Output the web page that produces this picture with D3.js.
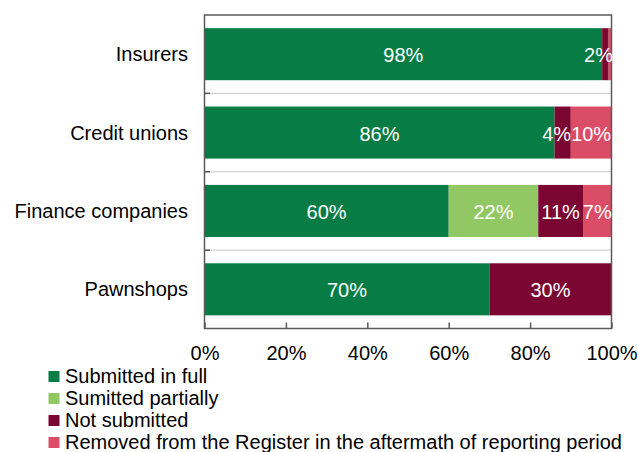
<!DOCTYPE html>
<html>
<head>
<meta charset="utf-8">
<script src="https://cdn.jsdelivr.net/npm/d3@7"></script>
<style>
  html, body { margin: 0; padding: 0; background: #fff; }
  svg { display: block; font-family: "Liberation Sans", Arial, sans-serif; }
</style>
</head>
<body>
<svg id="chart" width="638" height="452"></svg>
<script>
// Reporting status by type of institution, share of entities (%)
const categories = ["Insurers", "Credit unions", "Finance companies", "Pawnshops"];
const seriesNames = [
  "Submitted in full",
  "Sumitted partially",
  "Not submitted",
  "Removed from the Register in the aftermath of reporting period"
];
const submittedFull      = [97.7, 86, 60, 70];
const submittedPartially = [0,     0, 22,  0];
const notSubmitted       = [1.6,   4, 11, 30];
const removedFromReg     = [0.7,  10,  7,  0];
const xTickValues = [0, 20, 40, 60, 80, 100];
const seriesColors = ["#077d45", "#92c864", "#7c0632", "#db4d66"];

const seriesValues = [submittedFull, submittedPartially, notSubmitted, removedFromReg];
const keys = seriesNames;
const rows = categories.map((c, i) => {
  const r = { category: c };
  keys.forEach((k, j) => { r[k] = seriesValues[j][i]; });
  return r;
});

const svg = d3.select("#chart");
const plot = { left: 204.5, right: 611.5, top: 15, bottom: 328.5 };
const fontSize = 20;

const x = d3.scaleLinear().domain([0, 100]).range([plot.left, plot.right]);
const yBands = d3.scaleBand().domain(categories).range([plot.top, plot.bottom]).padding(0);
const y = d3.scaleBand().domain(categories).range([plot.top, plot.bottom])
  .paddingInner(0.336).paddingOuter(0.168);

const stacked = d3.stack().keys(keys)(rows);

// horizontal separators between categories
const boundaries = categories.slice(1).map(c => yBands(c));
svg.append("g").selectAll("line").data(boundaries).join("line")
  .attr("x1", plot.left).attr("x2", plot.right)
  .attr("y1", d => d).attr("y2", d => d)
  .attr("stroke", "#c8c8c8").attr("stroke-width", 1);

// stacked bars
const layers = svg.append("g").selectAll("g").data(stacked).join("g")
  .attr("fill", (d, i) => seriesColors[i]);
layers.selectAll("rect").data(d => d.filter(p => p[1] - p[0] > 0)).join("rect")
  .attr("x", d => x(d[0]))
  .attr("width", d => x(d[1]) - x(d[0]))
  .attr("y", d => y(d.data.category))
  .attr("height", y.bandwidth());

// frame
svg.append("rect")
  .attr("x", plot.left).attr("y", plot.top)
  .attr("width", plot.right - plot.left).attr("height", plot.bottom - plot.top)
  .attr("fill", "none").attr("stroke", "#595959").attr("stroke-width", 1.5);

// y axis: inner ticks at category boundaries, labels on the left
svg.append("g").selectAll("line").data(boundaries).join("line")
  .attr("x1", plot.left).attr("x2", plot.left + 5.5)
  .attr("y1", d => d).attr("y2", d => d)
  .attr("stroke", "#595959").attr("stroke-width", 1.5);
svg.append("g").selectAll("text").data(categories).join("text")
  .attr("x", 188)
  .attr("y", d => y(d) + y.bandwidth() / 2 + 7)
  .attr("text-anchor", "end")
  .attr("font-size", fontSize)
  .attr("fill", "#000")
  .text(d => d);

// x axis
const xAxis = d3.axisBottom(x).tickValues(xTickValues)
  .tickFormat(d => d + "%").tickSizeInner(-6).tickSizeOuter(0).tickPadding(0);
const gx = svg.append("g").attr("transform", `translate(0,${plot.bottom})`).call(xAxis);
gx.select(".domain").remove();
gx.selectAll(".tick line").attr("stroke", "#595959").attr("stroke-width", 1.5);
gx.selectAll(".tick text")
  .attr("font-family", "Liberation Sans, Arial, sans-serif")
  .attr("font-size", fontSize).attr("fill", "#000")
  .attr("dy", null).attr("y", 31.5);

// value labels: centred in their segment, kept inside the frame and apart from each other
const fmt = v => d3.format(".0f")(v) + "%";
const labelLayer = svg.append("g");
categories.forEach(cat => {
  const segs = [];
  stacked.forEach(layer => {
    const p = layer.find(q => q.data.category === cat);
    const v = p[1] - p[0];
    if (v >= 1) segs.push({ cat, v, cx: (x(p[0]) + x(p[1])) / 2 });
  });
  segs.forEach(s => {
    s.node = labelLayer.append("text")
      .attr("y", y(cat) + y.bandwidth() / 2 + 8)
      .attr("text-anchor", "middle")
      .attr("font-size", fontSize)
      .attr("fill", "#fff")
      .text(fmt(s.v));
    s.w = s.node.node().getComputedTextLength();
  });
  const maxRight = plot.right + 1.5;
  for (let i = segs.length - 1; i >= 0; i--) {
    const s = segs[i];
    let limit = maxRight;
    if (i < segs.length - 1) limit = Math.min(limit, segs[i + 1].cx - segs[i + 1].w / 2);
    if (s.cx + s.w / 2 > limit) s.cx = limit - s.w / 2;
    s.node.attr("x", s.cx);
  }
});

// legend
const legend = svg.append("g").selectAll("g").data(seriesNames).join("g")
  .attr("transform", (d, i) => `translate(48.5,${371 + i * 22})`);
legend.append("rect")
  .attr("width", 11).attr("height", 11)
  .attr("fill", (d, i) => seriesColors[i]);
legend.append("text")
  .attr("x", 16.5).attr("y", 12.3)
  .attr("font-size", fontSize).attr("fill", "#000")
  .text(d => d);
</script>
</body>
</html>
